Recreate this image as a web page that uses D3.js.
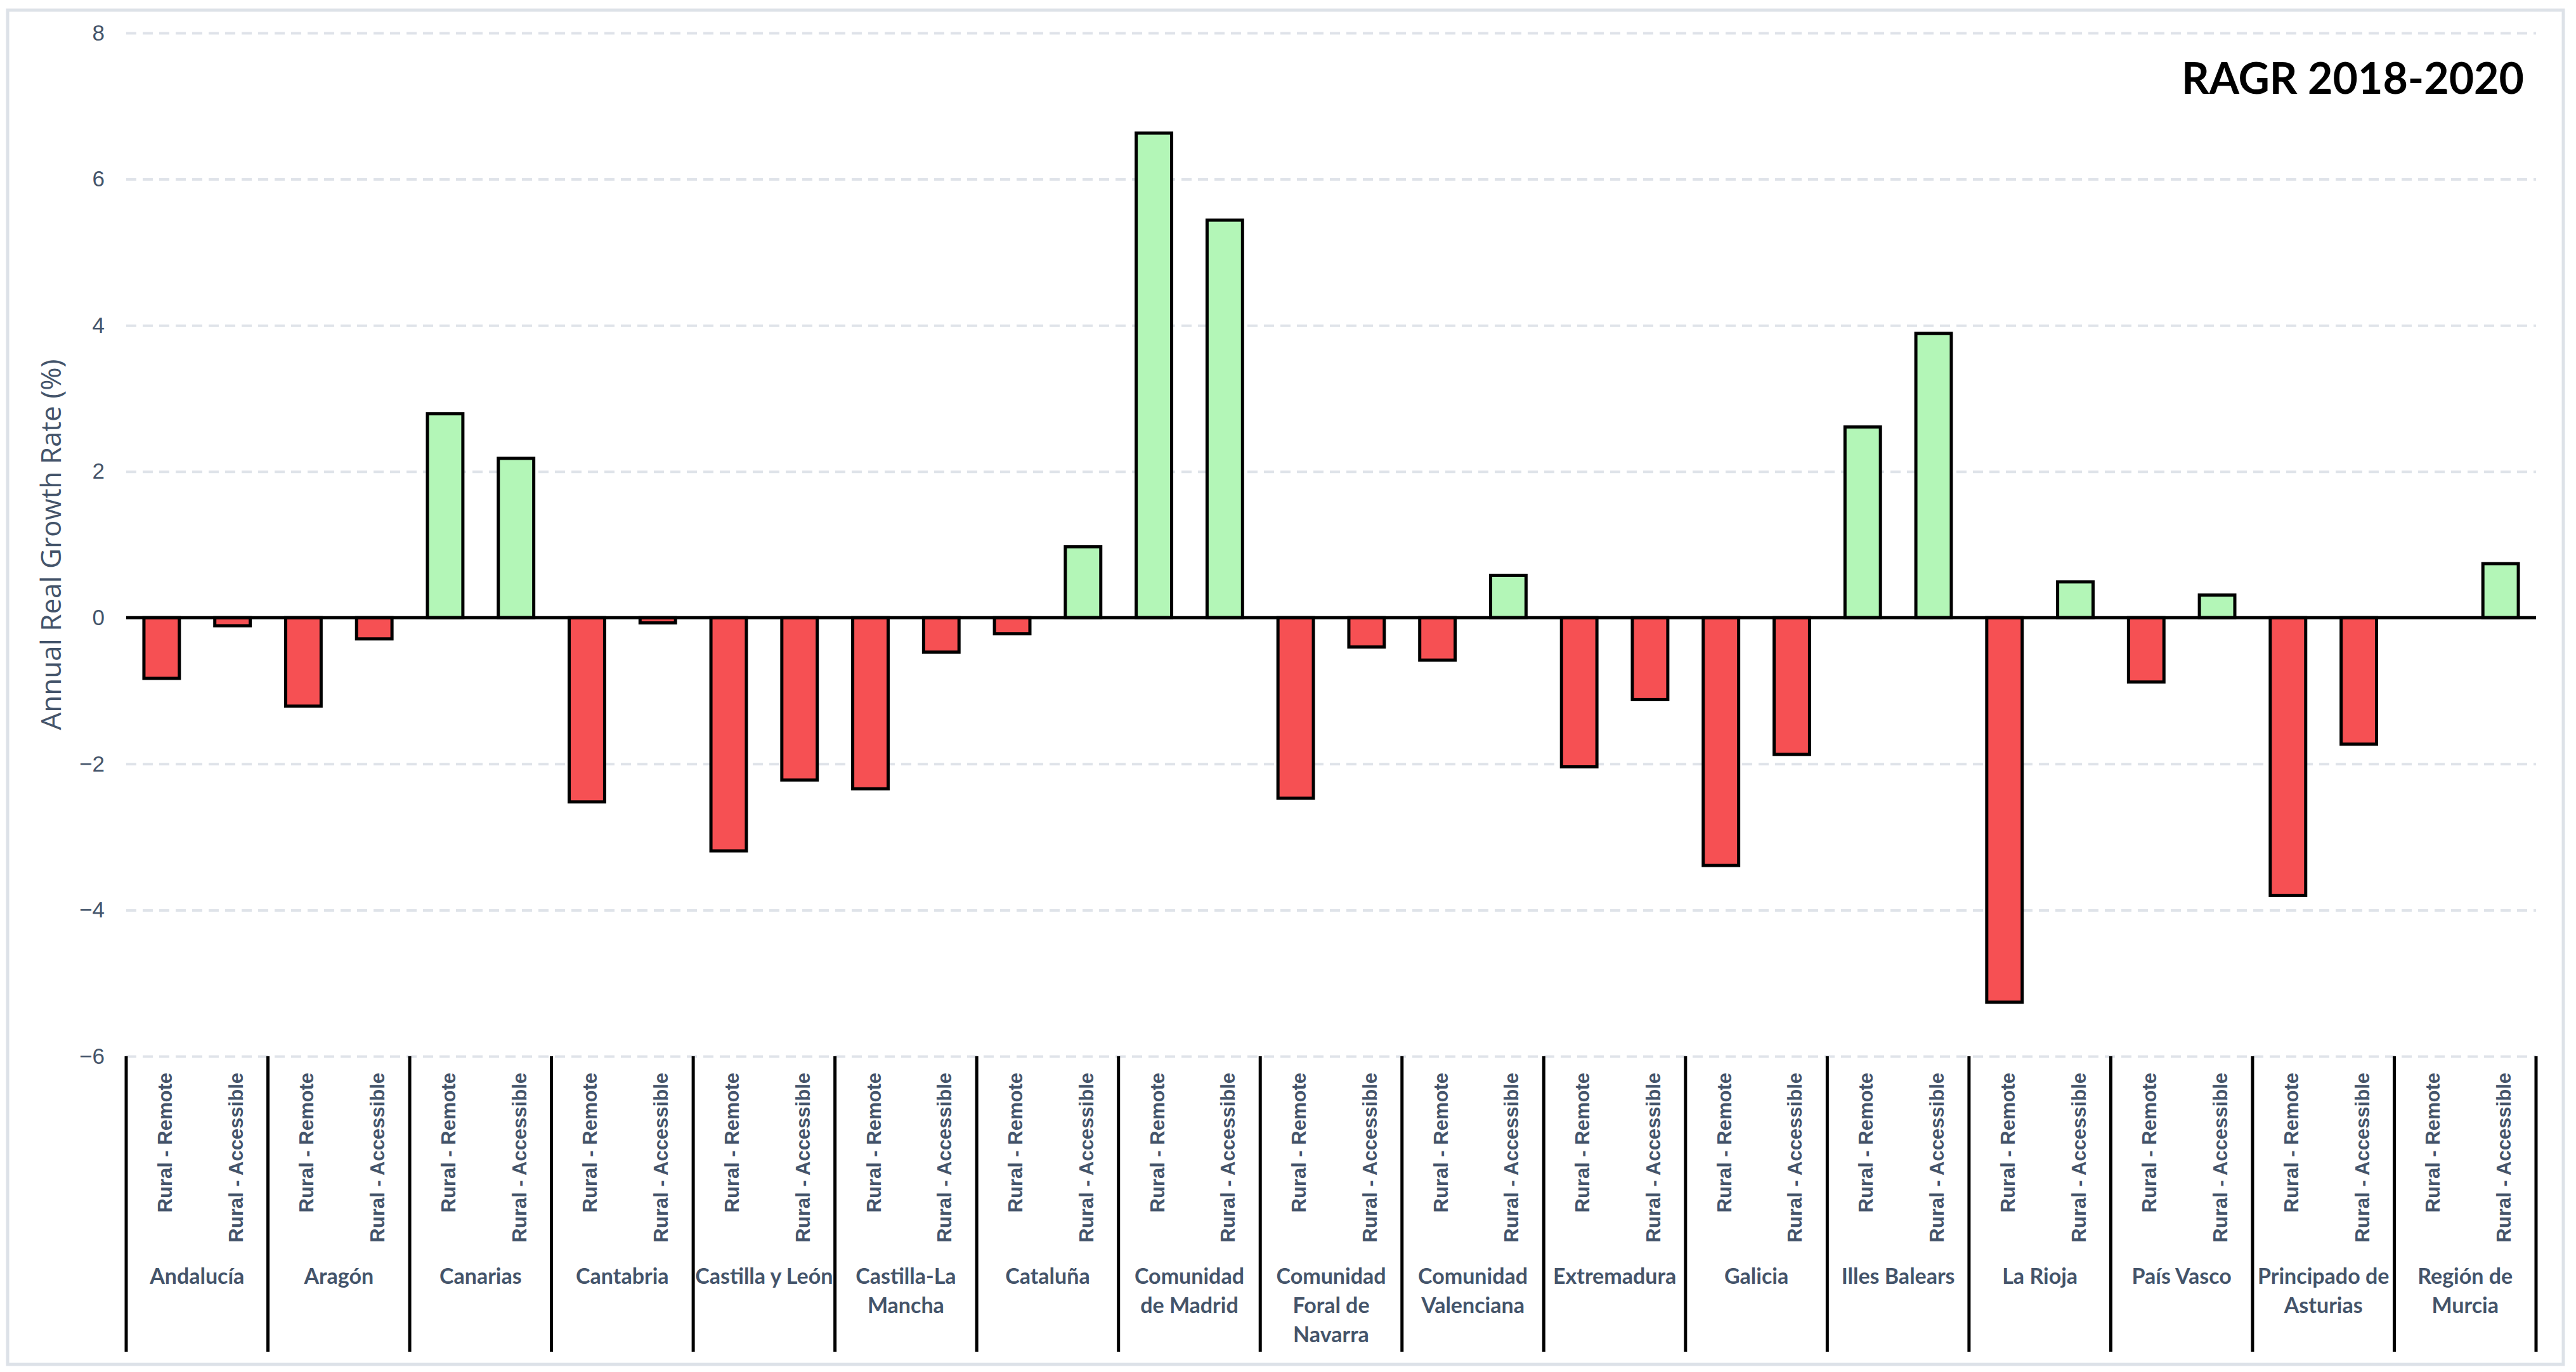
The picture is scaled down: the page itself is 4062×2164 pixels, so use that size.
<!DOCTYPE html>
<html>
<head>
<meta charset="utf-8">
<script src="https://cdn.jsdelivr.net/npm/d3@7"></script>
<style>
  body { margin: 0; background: #fff; }
  svg { display: block; }
</style>
</head>
<body>
<div id="chart"></div>
<script>
// Data
var regions = ["Andalucía", "Aragón", "Canarias", "Cantabria", "Castilla y León",
  "Castilla-La\nMancha", "Cataluña", "Comunidad\nde Madrid", "Comunidad\nForal de\nNavarra",
  "Comunidad\nValenciana", "Extremadura", "Galicia", "Illes Balears", "La Rioja",
  "País Vasco", "Principado de\nAsturias", "Región de\nMurcia"];
var types = ["Rural - Remote", "Rural - Accessible"];
var remote = [-0.83, -1.21, 2.79, -2.52, -3.19, -2.34, -0.22, 6.63, -2.47, -0.58, -2.04, -3.39, 2.61, -5.26, -0.88, -3.80, null];
var accessible = [-0.11, -0.29, 2.18, -0.07, -2.22, -0.47, 0.97, 5.44, -0.40, 0.58, -1.12, -1.87, 3.89, 0.49, 0.31, -1.73, 0.74];
var yTicks = [-6, -4, -2, 0, 2, 4, 6, 8];
var title = "RAGR 2018-2020";
var yLabel = "Annual Real Growth Rate (%)";

// Parameters
var width = 4062;
var height = 2164;
var plotLeft = 199;
var plotRight = 3999;
var plotTop = 52;
var plotBottom = 1666;
var textColor = "#44546a";
var gridColor = "#dfe3e9";

var svg = d3.select("#chart").append("svg")
    .attr("width", width)
    .attr("height", height);

// Outer frame
svg.append("rect")
    .attr("x", 12).attr("y", 16)
    .attr("width", 4030).attr("height", 2136)
    .attr("fill", "#fff")
    .attr("stroke", "#dde2e8")
    .attr("stroke-width", 5);

var x0 = d3.scaleBand().domain(d3.range(regions.length)).range([plotLeft, plotRight]).padding(0);
var x1 = d3.scaleBand().domain(types).range([0, x0.bandwidth()]).paddingInner(0.5).paddingOuter(0.25);
var yScale = d3.scaleLinear().domain([-6, 8]).range([plotBottom, plotTop]);

// Gridlines + tick labels
var yAxis = d3.axisLeft(yScale).tickValues(yTicks).tickSize(-(plotRight - plotLeft)).tickPadding(34);
var yG = svg.append("g").attr("transform", "translate(" + plotLeft + ",0)").call(yAxis);
yG.select(".domain").remove();
yG.selectAll(".tick line")
    .attr("stroke", gridColor)
    .attr("stroke-width", 4)
    .attr("stroke-dasharray", "16,10")
    .attr("display", function(d){ return d === 0 ? "none" : null; });
yG.selectAll(".tick text")
    .attr("fill", textColor)
    .style("font-family", "'Liberation Sans', Arial, sans-serif")
    .style("font-size", "35px");

// Bars
var rows = [];
regions.forEach(function(r, i){
    rows.push({i: i, type: types[0], value: remote[i]});
    rows.push({i: i, type: types[1], value: accessible[i]});
});

svg.append("g").selectAll("rect")
    .data(rows.filter(function(d){ return d.value !== null; }))
    .enter().append("rect")
    .attr("x", function(d){ return x0(d.i) + x1(d.type); })
    .attr("width", x1.bandwidth())
    .attr("y", function(d){ return yScale(Math.max(0, d.value)); })
    .attr("height", function(d){ return Math.abs(yScale(d.value) - yScale(0)); })
    .attr("fill", function(d){ return d.value >= 0 ? "#b3f6b7" : "#f65053"; })
    .attr("stroke", "#000")
    .attr("stroke-width", 5);

// Zero line
svg.append("line")
    .attr("x1", plotLeft).attr("x2", plotRight)
    .attr("y1", yScale(0)).attr("y2", yScale(0))
    .attr("stroke", "#000")
    .attr("stroke-width", 5);

// Group separators
svg.append("g").selectAll("line")
    .data(d3.range(regions.length + 1))
    .enter().append("line")
    .attr("x1", function(i){ return plotLeft + i * x0.step(); })
    .attr("x2", function(i){ return plotLeft + i * x0.step(); })
    .attr("y1", plotBottom)
    .attr("y2", 2132)
    .attr("stroke", "#000")
    .attr("stroke-width", 5);

// Sub-category labels
svg.append("g").selectAll("text")
    .data(rows)
    .enter().append("text")
    .attr("transform", function(d){
        var cx = x0(d.i) + x1(d.type) + x1.bandwidth() / 2 + 16;
        return "translate(" + cx + ",1692)rotate(-90)";
    })
    .attr("text-anchor", "end")
    .attr("fill", textColor)
    .style("font-family", "'Liberation Sans', Arial, sans-serif")
    .style("font-weight", "bold")
    .style("font-size", "31px")
    .text(function(d){ return d.type; });

// Region labels
var regionText = svg.append("g").selectAll("text")
    .data(regions)
    .enter().append("text")
    .attr("text-anchor", "middle")
    .attr("fill", textColor)
    .style("font-family", "Lato, sans-serif")
    .style("font-weight", "bold")
    .style("font-size", "34px");

regionText.each(function(r, i){
    var t = d3.select(this);
    r.split("\n").forEach(function(line, k){
        t.append("tspan")
            .attr("x", x0(i) + x0.bandwidth() / 2)
            .attr("y", 2025 + k * 46)
            .text(line);
    });
});

// Y-axis title
svg.append("text")
    .attr("transform", "translate(96," + (plotTop + plotBottom) / 2 + ")rotate(-90)")
    .attr("text-anchor", "middle")
    .attr("fill", textColor)
    .style("font-family", "'Open Sans', sans-serif")
    .style("font-size", "44px")
    .text(yLabel);

// Title
svg.append("text")
    .attr("x", 3980)
    .attr("y", 148)
    .attr("text-anchor", "end")
    .attr("fill", "#000")
    .style("font-family", "Lato, sans-serif")
    .style("font-weight", "bold")
    .style("font-size", "68px")
    .text(title);
</script>
</body>
</html>
